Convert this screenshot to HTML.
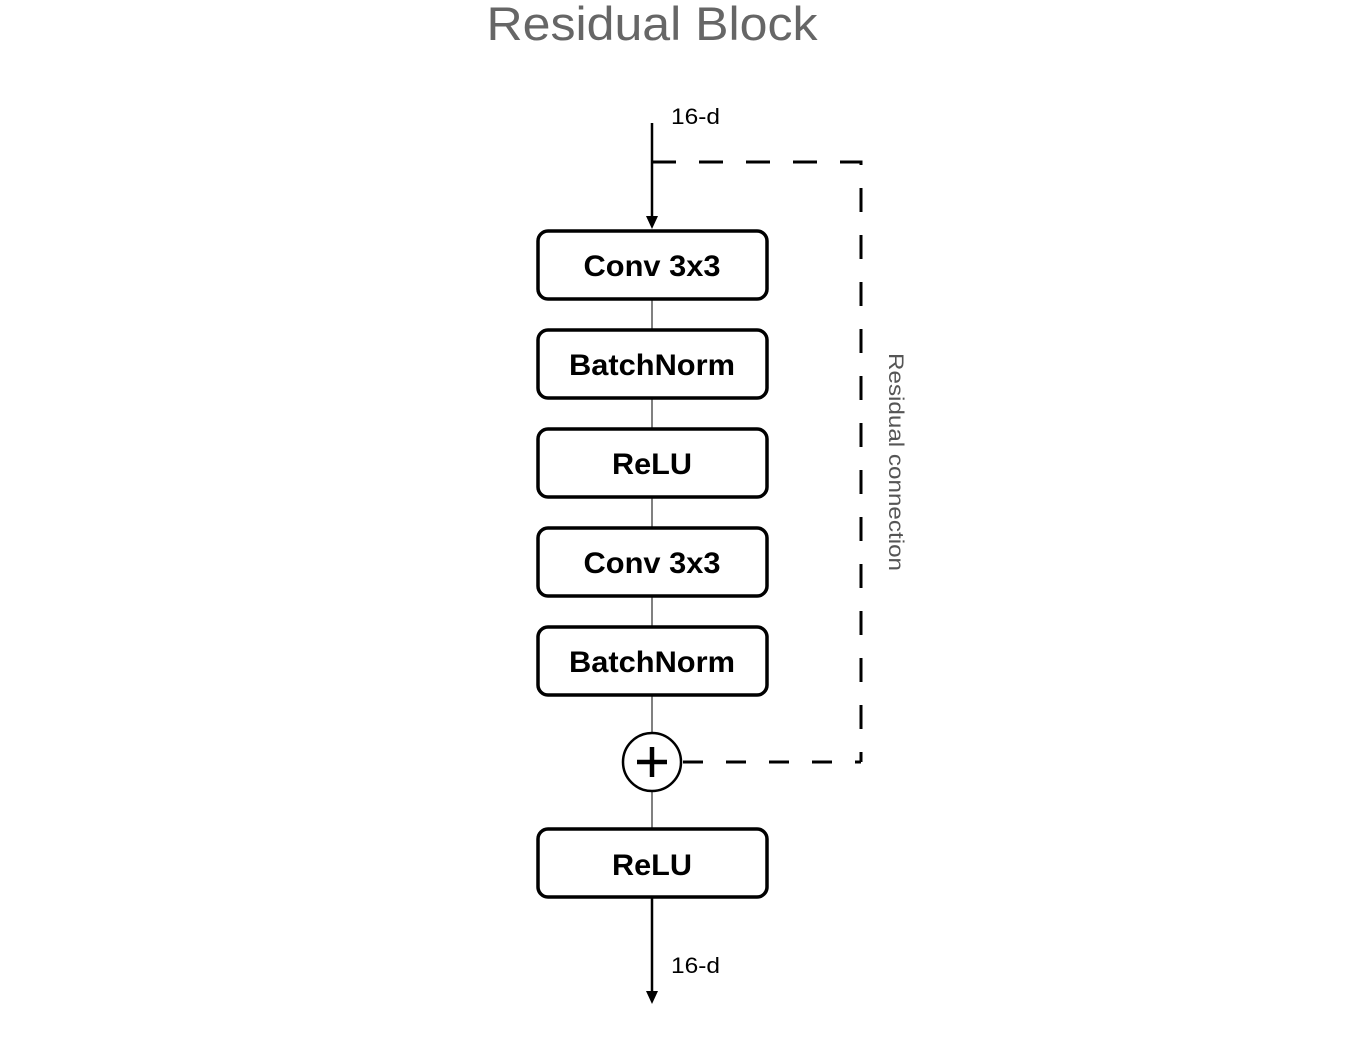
<!DOCTYPE html>
<html><head><meta charset="utf-8"><style>
html,body{margin:0;padding:0;background:#fff;}
svg{display:block;}
text{font-family:"Liberation Sans",Arial,sans-serif;}
</style></head><body>
<svg width="1352" height="1037" viewBox="0 0 1352 1037" xmlns="http://www.w3.org/2000/svg">
<text x="652" y="40" text-anchor="middle" font-size="47" fill="#666" textLength="331" lengthAdjust="spacingAndGlyphs">Residual Block</text>
<!-- input arrow -->
<line x1="652" y1="123" x2="652" y2="218" stroke="#000" stroke-width="2.5"/>
<polygon points="646,216 658,216 652,229" fill="#000"/>
<text x="671" y="124" font-size="22" fill="#000" textLength="49" lengthAdjust="spacingAndGlyphs">16-d</text>
<!-- dashed residual -->
<path d="M652 162 H861 V762" fill="none" stroke="#000" stroke-width="3" stroke-dasharray="24,23"/>
<path d="M683 762 H861" fill="none" stroke="#000" stroke-width="3" stroke-dasharray="20,23"/>
<text transform="translate(889,462) rotate(90)" text-anchor="middle" font-size="21" fill="#555" textLength="218" lengthAdjust="spacingAndGlyphs">Residual connection</text>
<!-- connectors -->
<line x1="652" y1="299" x2="652" y2="733" stroke="#000" stroke-width="1"/>
<line x1="652" y1="791" x2="652" y2="829" stroke="#000" stroke-width="1"/>
<g fill="#fff" stroke="#000" stroke-width="3.5">
<rect x="538" y="231" width="229" height="68" rx="10"/>
<rect x="538" y="330" width="229" height="68" rx="10"/>
<rect x="538" y="429" width="229" height="68" rx="10"/>
<rect x="538" y="528" width="229" height="68" rx="10"/>
<rect x="538" y="627" width="229" height="68" rx="10"/>
<rect x="538" y="829" width="229" height="68" rx="10"/>
</g>
<g font-size="30" font-weight="bold" text-anchor="middle" fill="#000">
<text x="652" y="276" textLength="137" lengthAdjust="spacingAndGlyphs">Conv 3x3</text>
<text x="652" y="375" textLength="166" lengthAdjust="spacingAndGlyphs">BatchNorm</text>
<text x="652" y="474" textLength="80" lengthAdjust="spacingAndGlyphs">ReLU</text>
<text x="652" y="573" textLength="137" lengthAdjust="spacingAndGlyphs">Conv 3x3</text>
<text x="652" y="672" textLength="166" lengthAdjust="spacingAndGlyphs">BatchNorm</text>
<text x="652" y="875" textLength="80" lengthAdjust="spacingAndGlyphs">ReLU</text>
</g>
<!-- plus node -->
<circle cx="652" cy="762" r="29" fill="#fff" stroke="#000" stroke-width="2.5"/>
<line x1="637" y1="762" x2="667" y2="762" stroke="#000" stroke-width="4.5"/>
<line x1="652" y1="747" x2="652" y2="777" stroke="#000" stroke-width="4.5"/>
<!-- output arrow -->
<line x1="652" y1="897" x2="652" y2="992" stroke="#000" stroke-width="2.5"/>
<polygon points="646,991 658,991 652,1004" fill="#000"/>
<text x="671" y="973" font-size="22" fill="#000" textLength="49" lengthAdjust="spacingAndGlyphs">16-d</text>
</svg>
</body></html>
